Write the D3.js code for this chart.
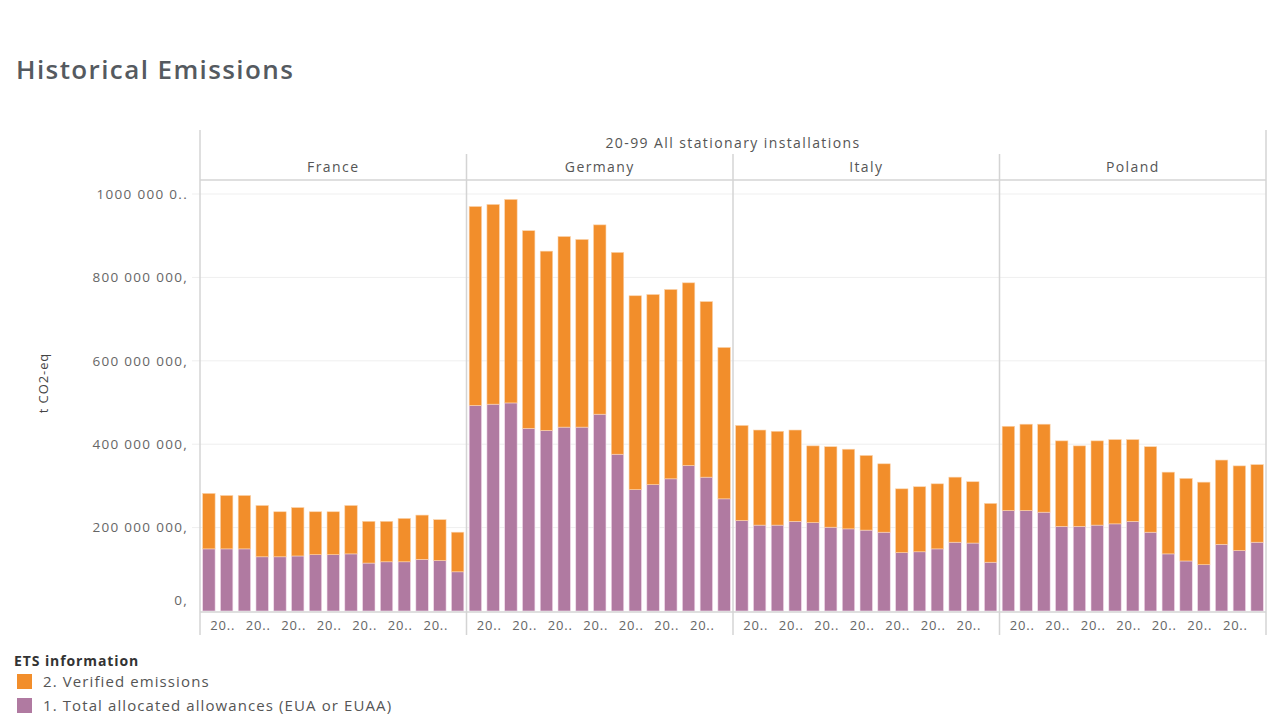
<!DOCTYPE html>
<html>
<head>
<meta charset="utf-8">
<script src="https://cdn.jsdelivr.net/npm/d3@7/dist/d3.min.js"></script>
<style>
  html, body { margin: 0; padding: 0; background: #fff; }
  svg { display: block; font-family: "Open Sans", sans-serif; }
</style>
</head>
<body>
<div id="chart"></div>
<script>
// values in million tonnes CO2-eq
const years = [2008, 2009, 2010, 2011, 2012, 2013, 2014, 2015, 2016, 2017, 2018, 2019, 2020, 2021, 2022];
const countries = ['France', 'Germany', 'Italy', 'Poland'];

const allocatedFrance = [149, 149, 149, 130, 130, 132, 135, 135, 137, 115, 118, 118, 124, 121, 94];
const allocatedGermany = [493, 496, 499, 438, 433, 441, 441, 472, 376, 291, 303, 317, 349, 321, 269];
const allocatedItaly = [217, 206, 206, 215, 212, 201, 197, 194, 189, 140, 142, 149, 165, 163, 117];
const allocatedPoland = [241, 241, 237, 203, 203, 206, 209, 215, 189, 137, 120, 111, 160, 145, 165];

const verifiedFrance = [133, 128, 128, 123, 108, 116, 103, 103, 116, 100, 97, 104, 106, 98, 95];
const verifiedGermany = [477, 479, 488, 474, 430, 457, 450, 454, 484, 465, 456, 454, 438, 421, 363];
const verifiedItaly = [228, 228, 225, 219, 184, 193, 191, 179, 164, 153, 156, 156, 156, 147, 141];
const verifiedPoland = [202, 207, 211, 205, 193, 202, 202, 196, 205, 196, 198, 198, 202, 203, 186];

const yTicks = [0, 200, 400, 600, 800, 1000];
const seriesNames = ['2. Verified emissions', '1. Total allocated allowances (EUA or EUAA)'];
const colors = { verified: '#f28e2b', allocated: '#b07aa1' };

const allocated = { France: allocatedFrance, Germany: allocatedGermany, Italy: allocatedItaly, Poland: allocatedPoland };
const verified = { France: verifiedFrance, Germany: verifiedGermany, Italy: verifiedItaly, Poland: verifiedPoland };

const rows = [];
countries.forEach((country) => {
  years.forEach((year, i) => {
    rows.push({ country, year, allocated: allocated[country][i] * 1e6, verified: verified[country][i] * 1e6 });
  });
});

const width = 1280;
const height = 720;
const plot = { left: 200, right: 1266, top: 180, bottom: 611 };
const textColor = '#666';
const lineColor = '#d4d4d4';

const svg = d3.select('#chart').append('svg').attr('width', width).attr('height', height);

svg.append('text')
  .attr('x', 16).attr('y', 79)
  .attr('fill', '#555a60')
  .attr('font-size', 26)
  .attr('font-weight', 600)
  .attr('letter-spacing', 1.4)
  .text('Historical Emissions');

const xPanel = d3.scaleBand().domain(countries).range([plot.left, plot.right]);
const xYear = d3.scaleBand().domain(years).range([0, xPanel.bandwidth()]).paddingInner(0.3).paddingOuter(0.15);
const y = d3.scaleLinear().domain([0, 1033.6e6]).range([plot.bottom, plot.top]);

// number format like "1000 000 000,"
const locale = d3.formatLocale({ decimal: '.', thousands: ' ', grouping: [3, 3, 4], currency: ['', ''] });
const fmt = locale.format(',d');
const yLabel = (v) => {
  const s = fmt(v) + ',';
  return s.length > 12 ? s.slice(0, 10) + '..' : s;
};

// gridlines
svg.append('g')
  .selectAll('line')
  .data(yTicks.slice(1))
  .join('line')
  .attr('x1', plot.left - 8).attr('x2', plot.right)
  .attr('y1', (d) => y(d * 1e6)).attr('y2', (d) => y(d * 1e6))
  .attr('stroke', '#efefef').attr('stroke-width', 1);

// y axis
const yAxis = svg.append('g')
  .attr('transform', `translate(${plot.left},0)`)
  .call(d3.axisLeft(y).tickValues(yTicks.map((d) => d * 1e6)).tickSize(0).tickPadding(12).tickFormat(yLabel));
yAxis.select('.domain').remove();
yAxis.selectAll('text')
  .attr('fill', textColor)
  .attr('font-size', 13.5)
  .attr('letter-spacing', 1.3)
  .attr('font-family', '"Open Sans", sans-serif')
  .attr('dy', (d) => (d === 0 ? '-0.45em' : '0.32em'));

svg.append('text')
  .attr('transform', 'translate(48,383) rotate(-90)')
  .attr('text-anchor', 'middle')
  .attr('fill', '#444')
  .attr('font-size', 13)
  .attr('letter-spacing', 0.9)
  .text('t CO2-eq');

// headers
svg.append('text')
  .attr('x', (plot.left + plot.right) / 2).attr('y', 148)
  .attr('text-anchor', 'middle')
  .attr('fill', '#555').attr('font-size', 14)
  .attr('letter-spacing', 1.4)
  .text('20-99 All stationary installations');

svg.append('g')
  .selectAll('text')
  .data(countries)
  .join('text')
  .attr('x', (d) => xPanel(d) + xPanel.bandwidth() / 2)
  .attr('y', 172)
  .attr('text-anchor', 'middle')
  .attr('fill', '#555').attr('font-size', 14)
  .attr('letter-spacing', 1.4)
  .text((d) => d);

// bars
const panels = svg.append('g')
  .selectAll('g')
  .data(countries)
  .join('g')
  .attr('transform', (d) => `translate(${xPanel(d)},0)`);

panels.each(function (country) {
  const g = d3.select(this);
  const data = rows.filter((r) => r.country === country);

  g.selectAll('rect.allocated')
    .data(data)
    .join('rect')
    .attr('class', 'allocated')
    .attr('x', (d) => xYear(d.year))
    .attr('width', xYear.bandwidth())
    .attr('y', (d) => y(d.allocated))
    .attr('height', (d) => y(0) - y(d.allocated))
    .attr('fill', colors.allocated)
    .attr('stroke', '#f3dcec').attr('stroke-width', 0.6);

  g.selectAll('rect.verified')
    .data(data)
    .join('rect')
    .attr('class', 'verified')
    .attr('x', (d) => xYear(d.year))
    .attr('width', xYear.bandwidth())
    .attr('y', (d) => y(d.allocated + d.verified))
    .attr('height', (d) => y(d.allocated) - y(d.allocated + d.verified))
    .attr('fill', colors.verified)
    .attr('stroke', '#fbd3ab').attr('stroke-width', 0.6);

  const xAxis = g.append('g')
    .attr('transform', `translate(0,${plot.bottom})`)
    .call(d3.axisBottom(xYear).tickValues(years.filter((d, i) => i % 2 === 1)).tickSize(0).tickPadding(10)
      .tickFormat((d) => String(d).slice(0, 2) + '..'));
  xAxis.select('.domain').remove();
  xAxis.selectAll('text')
    .attr('fill', textColor)
    .attr('font-size', 13)
    .attr('letter-spacing', 0.8)
    .attr('dx', -4)
    .attr('font-family', '"Open Sans", sans-serif');
});

// frame lines
const frame = svg.append('g').attr('stroke', lineColor).attr('stroke-width', 1.5).attr('fill', 'none');
frame.append('line').attr('x1', plot.left).attr('x2', plot.right).attr('y1', plot.top).attr('y2', plot.top);
frame.append('line').attr('x1', plot.left).attr('x2', plot.right).attr('y1', plot.bottom + 1).attr('y2', plot.bottom + 1);
frame.append('line').attr('x1', plot.left).attr('x2', plot.left).attr('y1', 130).attr('y2', 635);
frame.append('line').attr('x1', plot.right).attr('x2', plot.right).attr('y1', 130).attr('y2', 635);
frame.selectAll('line.divider')
  .data(countries.slice(1))
  .join('line')
  .attr('class', 'divider')
  .attr('x1', (d) => xPanel(d)).attr('x2', (d) => xPanel(d))
  .attr('y1', 154).attr('y2', 635);

// legend
const legend = svg.append('g').attr('transform', 'translate(14,666)');
legend.append('text')
  .attr('x', 0).attr('y', 0)
  .attr('fill', '#333').attr('font-size', 14).attr('font-weight', 700)
  .attr('letter-spacing', 0.9)
  .text('ETS information');

const items = legend.selectAll('g.item')
  .data([
    { name: seriesNames[0], color: colors.verified },
    { name: seriesNames[1], color: colors.allocated }
  ])
  .join('g')
  .attr('class', 'item')
  .attr('transform', (d, i) => `translate(0,${16 + i * 24})`);

items.append('rect')
  .attr('x', 3).attr('y', -8)
  .attr('width', 15).attr('height', 15)
  .attr('fill', (d) => d.color);

items.append('text')
  .attr('x', 29).attr('y', 5)
  .attr('fill', '#555').attr('font-size', 15)
  .attr('letter-spacing', 1.1)
  .text((d) => d.name);
</script>
</body>
</html>
